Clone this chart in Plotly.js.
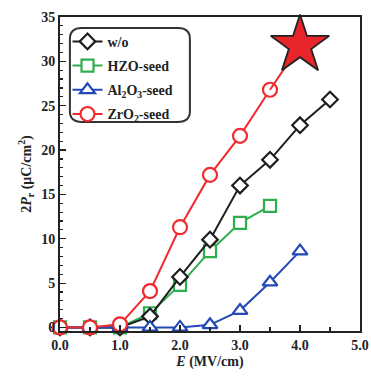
<!DOCTYPE html>
<html><head><meta charset="utf-8">
<script src="https://cdn.plot.ly/plotly-3.0.1.min.js"></script>
<style>html,body{margin:0;padding:0;background:#fff;}#chart{width:371px;height:376px;}</style>
</head><body><div id="chart"></div>
<script>
const E = [0.0, 0.5, 1.0, 1.5, 2.0, 2.5, 3.0, 3.5, 4.0, 4.5];
const wo = [0, 0, 0, 1.25, 5.7, 9.9, 16.0, 18.9, 22.8, 25.7];
const E_hzo = [0.0, 0.5, 1.0, 1.5, 2.0, 2.5, 3.0, 3.5];
const hzo = [0, 0, 0, 1.6, 4.8, 8.6, 11.8, 13.7];
const E_al = [0.0, 0.5, 1.0, 1.5, 2.0, 2.5, 3.0, 3.5, 4.0];
const al = [0, 0, 0, 0, 0, 0.3, 1.9, 5.1, 8.6];
const E_zr = [0.0, 0.5, 1.0, 1.5, 2.0, 2.5, 3.0, 3.5, 4.0];
const zr = [0, 0, 0.35, 4.1, 11.3, 17.2, 21.6, 26.8, 31.8];
const starX = [4.0];
const starY = [31.8];
const names = ['w/o', 'HZO-seed', 'Al<sub>2</sub>O<sub>3</sub>-seed', 'ZrO<sub>2</sub>-seed'];
const xTicks = [0, 1, 2, 3, 4, 5];
const xTickText = ['0.0', '1.0', '2.0', '3.0', '4.0', '5.0'];
const yTicks = [0, 5, 10, 15, 20, 25, 30, 35];

const cBlack = '#1e1e1e', cGreen = '#2fae4e', cBlue = '#2448b4', cRed = '#f02a2e';
const font = {family: '"Liberation Serif", "Times New Roman", serif', size: 14, color: '#222'};

function tr(x, y, name, color, symbol, size, order) {
  return {x: x, y: y, name: name, type: 'scatter', mode: 'lines+markers',
    line: {color: color, width: 2},
    marker: {symbol: symbol, size: size, color: '#fff', line: {color: color, width: 2.2}},
    cliponaxis: false, legendrank: order, legendgroup: 'g' + order};
}
const traces = [
  tr(E_hzo, hzo, names[1], cGreen, 'square', 12, 2),
  tr(E, wo, names[0], cBlack, 'diamond', 12, 1),
  tr(E_al, al, names[2], cBlue, 'triangle-up', 13, 3),
  tr(E_zr.slice(0, -1), zr.slice(0, -1), names[3], cRed, 'circle', 14, 4),
  {x: E_zr.slice(-2), y: zr.slice(-2), type: 'scatter', mode: 'lines', line: {color: cRed, width: 2}, showlegend: false, cliponaxis: false},
  {x: starX, y: starY, type: 'scatter', mode: 'markers', showlegend: false, cliponaxis: false,
   marker: {symbol: 'star', size: 44, color: '#e8262a', line: {color: '#222', width: 1.8}}}
];

const layout = {
  width: 371, height: 376,
  margin: {l: 60, r: 11, t: 17, b: 45},
  paper_bgcolor: '#fff', plot_bgcolor: '#fff',
  font: {family: font.family, size: 14, color: '#222'},
  showlegend: true,
  legend: {x: 0.025, y: 0.972, xanchor: 'left', yanchor: 'top', bgcolor: 'rgba(0,0,0,0)', borderwidth: 0,
    font: {family: font.family, size: 14, color: '#222', weight: 'bold'}, tracegroupgap: 3, itemwidth: 30,
    traceorder: 'grouped'},
  xaxis: {range: [0, 5], tickvals: xTicks, ticktext: xTickText, ticks: 'inside', ticklen: 6, tickwidth: 1.2,
    tickcolor: '#222', showline: true, linecolor: '#222', linewidth: 2, mirror: true, showgrid: false, zeroline: false,
    tickfont: {family: font.family, size: 14, color: '#222', weight: 'bold'},
    minor: {dtick: 0.5, ticks: 'inside', ticklen: 4, tickcolor: '#222'},
    title: {text: '<i>E</i> (MV/cm)', standoff: 4, font: {family: font.family, size: 14, color: '#222', weight: 'bold'}}},
  yaxis: {range: [-0.4, 35], tickvals: yTicks, ticks: 'inside', ticklen: 6, tickwidth: 1.2,
    tickcolor: '#222', showline: true, linecolor: '#222', linewidth: 2, mirror: true, showgrid: false, zeroline: false,
    tickfont: {family: font.family, size: 14, color: '#222', weight: 'bold'},
    minor: {dtick: 1, ticks: 'inside', ticklen: 3, tickcolor: '#222'},
    title: {text: '2<i>P</i><sub>r</sub> (μC/cm<sup>2</sup>)', standoff: 6, font: {family: font.family, size: 14, color: '#222', weight: 'bold'}}},
  shapes: [{type: 'path', xref: 'paper', yref: 'paper', layer: 'above',
    path: 'M 0.073 0.965 L 0.393 0.965 Q 0.433 0.965 0.433 0.93 L 0.433 0.70 Q 0.433 0.666 0.393 0.666 L 0.073 0.666 Q 0.033 0.666 0.033 0.70 L 0.033 0.93 Q 0.033 0.965 0.073 0.965 Z',
    line: {color: '#333', width: 2}, fillcolor: 'rgba(0,0,0,0)'}]
};
Plotly.newPlot('chart', traces, layout, {displayModeBar: false, staticPlot: true});
</script></body></html>
